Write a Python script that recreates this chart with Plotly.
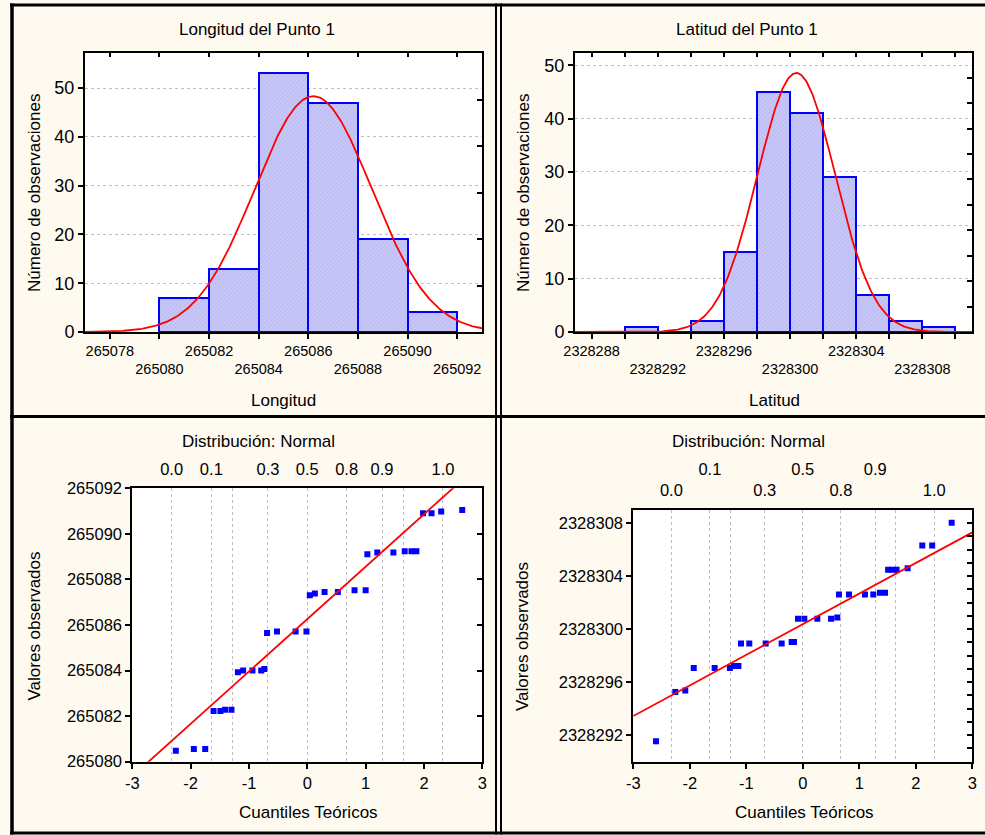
import numpy as np
import plotly.graph_objects as go

# ---------------- data ----------------
N_OBS = 143
BIN_W = 2

lon_bin_left = [265080, 265082, 265084, 265086, 265088, 265090]
lon_counts = [7, 13, 53, 47, 19, 4]
lon_mean, lon_sd = 265086.2, 2.36

lat_bin_left = [2328290, 2328292, 2328294, 2328296, 2328298, 2328300,
                2328302, 2328304, 2328306, 2328308]
lat_counts = [1, 0, 2, 15, 45, 41, 29, 7, 2, 1]
lat_mean, lat_sd = 2328300.38, 2.35

lon_ticks_row1 = [265078, 265082, 265086, 265090]
lon_ticks_row2 = [265080, 265084, 265088, 265092]
lat_ticks_row1 = [2328288, 2328296, 2328304]
lat_ticks_row2 = [2328292, 2328300, 2328308]

q_ticks = [-3, -2, -1, 0, 1, 2, 3]
q_tick_text = ["-3", "-2", "-1", "0", "1", "2", "3"]

# normal probability plot, longitude
qq_lon_x = [-2.254, -1.945, -1.75, -1.607, -1.49, -1.41, -1.30, -1.19, -1.10, -0.94,
            -0.79, -0.736, -0.69, -0.52, -0.20, -0.014, 0.043, 0.13, 0.296, 0.524,
            0.81, 1.0, 1.03, 1.20, 1.476, 1.67, 1.786, 1.87, 1.985, 2.13, 2.295, 2.656]
qq_lon_y = [265080.48, 265080.56, 265080.56, 265082.22, 265082.22, 265082.28, 265082.28,
            265083.93, 265084.0, 265084.0, 265084.0, 265084.07, 265085.65, 265085.72,
            265085.72, 265085.72, 265087.31, 265087.38, 265087.45, 265087.45, 265087.53,
            265087.53, 265089.10, 265089.18, 265089.18, 265089.24, 265089.24, 265089.24,
            265090.90, 265090.90, 265090.98, 265091.05]
qq_lon_intercept, qq_lon_slope = 265086.26, 2.30

# normal probability plot, latitude
qq_lat_x = [-2.598, -2.257, -2.08, -1.93, -1.56, -1.29, -1.22, -1.14, -1.094, -0.947,
            -0.657, -0.374, -0.197, -0.156, -0.085, 0.027, 0.257, 0.50, 0.61, 0.64,
            0.817, 1.10, 1.248, 1.366, 1.455, 1.51, 1.58, 1.66, 1.856, 2.115, 2.29, 2.635]
qq_lat_y = [2328291.55, 2328295.27, 2328295.37, 2328297.07, 2328297.07, 2328297.07,
            2328297.22, 2328297.22, 2328298.93, 2328298.93, 2328298.93, 2328298.93,
            2328299.03, 2328299.03, 2328300.79, 2328300.79, 2328300.79, 2328300.79,
            2328300.89, 2328302.63, 2328302.63, 2328302.63, 2328302.63, 2328302.75,
            2328302.75, 2328304.49, 2328304.49, 2328304.49, 2328304.61, 2328306.32,
            2328306.32, 2328308.03]
qq_lat_intercept, qq_lat_slope = 2328300.38, 2.31

prob_pos = [-2.326, -1.645, -1.282, -0.674, 0.0, 0.674, 1.282, 1.645, 2.326]
prob_labels_left = ["0.0", "0.1", "", "0.3", "0.5", "0.8", "0.9", "", "1.0"]
prob_labels_near = ["0.0", "", "", "0.3", "", "0.8", "", "", "1.0"]
prob_far_pos = [-1.645, 0.0, 1.282]
prob_far_labels = ["0.1", "0.5", "0.9"]

# ---------------- style ----------------
W, H = 985, 835
FONT = "Liberation Sans, Arial, sans-serif"
CREAM = "#FFFAF0"
BAR_FILL = "#C8C8F8"
BAR_LINE = "#0000FF"
RED = "#FF0000"
GRID = "#BEBEBE"


def xd(a, b):
    return [a / W, b / W]


def yd(top, bottom):
    return [1 - bottom / H, 1 - top / H]


fig = go.Figure()


def hist_traces(bin_left, counts, mean, sd, xr, xa, ya):
    centers = [b + BIN_W / 2 for b in bin_left]
    fig.add_trace(go.Bar(
        x=centers, y=counts, width=BIN_W, xaxis=xa, yaxis=ya,
        marker=dict(color=BAR_FILL, line=dict(color=BAR_LINE, width=2),
                    pattern=dict(shape="/", fgcolor="#A4A4EA", bgcolor=BAR_FILL,
                                 size=3, solidity=0.3)),
        showlegend=False, hoverinfo="x+y"))
    xs = np.linspace(xr[0], xr[1], 400)
    ys = N_OBS * BIN_W / (sd * np.sqrt(2 * np.pi)) * np.exp(-0.5 * ((xs - mean) / sd) ** 2)
    fig.add_trace(go.Scatter(x=xs, y=ys, mode="lines", xaxis=xa, yaxis=ya,
                             line=dict(color=RED, width=1.8), showlegend=False,
                             hoverinfo="skip"))


def qq_traces(qx, qy, b0, b1, xa, ya):
    fig.add_trace(go.Scatter(x=qx, y=qy, mode="markers", xaxis=xa, yaxis=ya,
                             marker=dict(symbol="square", size=6, color="#0000FF"),
                             showlegend=False))
    lx = [-3, 3]
    ly = [b0 + b1 * v for v in lx]
    fig.add_trace(go.Scatter(x=lx, y=ly, mode="lines", xaxis=xa, yaxis=ya,
                             line=dict(color=RED, width=1.8), showlegend=False,
                             hoverinfo="skip"))


def anchor_trace(xa, ya, xr, yr):
    # invisible helper trace so that overlay axes get drawn
    fig.add_trace(go.Scatter(x=[(xr[0] + xr[1]) / 2], y=[(yr[0] + yr[1]) / 2],
                             mode="markers", xaxis=xa, yaxis=ya,
                             marker=dict(opacity=0, size=1), showlegend=False,
                             hoverinfo="skip"))


LON_XR = [265077, 265093]
LAT_XR = [2328287, 2328311]
TL_YR = [0, 57.2]
TR_YR = [0, 52.3]
BL_YR = [265080, 265092]
BR_YR = [2328290, 2328309]
Q_XR = [-3, 3]

hist_traces(lon_bin_left, lon_counts, lon_mean, lon_sd, LON_XR, "x", "y")
hist_traces(lat_bin_left, lat_counts, lat_mean, lat_sd, LAT_XR, "x2", "y2")
qq_traces(qq_lon_x, qq_lon_y, qq_lon_intercept, qq_lon_slope, "x3", "y3")
qq_traces(qq_lat_x, qq_lat_y, qq_lat_intercept, qq_lat_slope, "x4", "y4")

anchor_trace("x5", "y", LON_XR, TL_YR)
anchor_trace("x6", "y", LON_XR, TL_YR)
anchor_trace("x", "y5", LON_XR, TL_YR)
anchor_trace("x7", "y2", LAT_XR, TR_YR)
anchor_trace("x8", "y2", LAT_XR, TR_YR)
anchor_trace("x2", "y6", LAT_XR, TR_YR)
anchor_trace("x9", "y3", Q_XR, BL_YR)
anchor_trace("x3", "y7", Q_XR, BL_YR)
anchor_trace("x10", "y4", Q_XR, BR_YR)
anchor_trace("x11", "y4", Q_XR, BR_YR)
anchor_trace("x4", "y8", Q_XR, BR_YR)

base_axis = dict(showline=True, linecolor="black", linewidth=2, zeroline=False,
                 showgrid=False, tickcolor="black", tickwidth=1.5, ticks="outside",
                 ticklen=5, color="black", automargin=False, fixedrange=True)

lon_all = list(range(265078, 265093, 2))
lat_all = list(range(2328288, 2328311, 2))


def row1_text(allv, row1):
    return [str(v) if v in row1 else "" for v in allv]


hx_font = dict(family=FONT, size=14.5, color="black")
y_font = dict(family=FONT, size=18, color="black")
q_font = dict(family=FONT, size=16.5, color="black")

ov = dict(showline=False, showgrid=False, zeroline=False, fixedrange=True,
          automargin=False)

layout_axes = {}
# --- top-left histogram
layout_axes["xaxis"] = dict(base_axis, domain=xd(85, 482), anchor="y", range=LON_XR,
                            tickvals=lon_all, ticktext=row1_text(lon_all, lon_ticks_row1),
                            tickfont=hx_font, mirror=True)
layout_axes["yaxis"] = dict(base_axis, domain=yd(53, 332), anchor="x", range=TL_YR,
                            tickvals=[0, 10, 20, 30, 40, 50], tickfont=y_font,
                            showgrid=True, gridcolor=GRID, griddash="dot", gridwidth=1,
                            mirror=True)
layout_axes["xaxis5"] = dict(ov, overlaying="x", anchor="y", side="bottom", range=LON_XR,
                             tickvals=lon_ticks_row2, ticktext=[str(v) for v in lon_ticks_row2],
                             ticks="outside", ticklen=24, tickcolor="rgba(0,0,0,0)",
                             tickfont=hx_font)
layout_axes["xaxis6"] = dict(ov, overlaying="x", anchor="y", side="top", range=LON_XR,
                             tickvals=lon_all, ticks="inside", ticklen=4, tickwidth=1.5,
                             tickcolor="black", showticklabels=False)
layout_axes["yaxis5"] = dict(ov, overlaying="y", anchor="x", side="right", range=TL_YR,
                             tickvals=[N_OBS / 15 * k for k in range(1, 6)],
                             ticks="inside", ticklen=5, tickwidth=1.5, tickcolor="black",
                             showticklabels=False)

# --- top-right histogram
layout_axes["xaxis2"] = dict(base_axis, domain=xd(575, 972), anchor="y2", range=LAT_XR,
                             tickvals=lat_all, ticktext=row1_text(lat_all, lat_ticks_row1),
                             tickfont=hx_font, mirror=True)
layout_axes["yaxis2"] = dict(base_axis, domain=yd(53, 332), anchor="x2", range=TR_YR,
                             tickvals=[0, 10, 20, 30, 40, 50], tickfont=y_font,
                             showgrid=True, gridcolor=GRID, griddash="dot", gridwidth=1,
                             mirror=True)
layout_axes["xaxis7"] = dict(ov, overlaying="x2", anchor="y2", side="bottom", range=LAT_XR,
                             tickvals=lat_ticks_row2, ticktext=[str(v) for v in lat_ticks_row2],
                             ticks="outside", ticklen=24, tickcolor="rgba(0,0,0,0)",
                             tickfont=hx_font)
layout_axes["xaxis8"] = dict(ov, overlaying="x2", anchor="y2", side="top", range=LAT_XR,
                             tickvals=lat_all, ticks="inside", ticklen=4, tickwidth=1.5,
                             tickcolor="black", showticklabels=False)
layout_axes["yaxis6"] = dict(ov, overlaying="y2", anchor="x2", side="right", range=TR_YR,
                             tickvals=[N_OBS / 30 * k for k in range(1, 11)],
                             ticks="inside", ticklen=5, tickwidth=1.5, tickcolor="black",
                             showticklabels=False)

# --- bottom-left QQ
layout_axes["xaxis3"] = dict(base_axis, domain=xd(132.3, 482.3), anchor="y3", range=Q_XR,
                             tickvals=q_ticks, ticktext=q_tick_text, tickfont=q_font,
                             mirror=True)
layout_axes["yaxis3"] = dict(base_axis, domain=yd(488.3, 761.7), anchor="x3", range=BL_YR,
                             tickvals=list(range(265080, 265093, 2)), tickformat="d",
                             tickfont=q_font, mirror=True)
layout_axes["xaxis9"] = dict(ov, overlaying="x3", anchor="y3", side="top", range=Q_XR,
                             tickvals=prob_pos, ticktext=prob_labels_left, ticks="outside",
                             ticklen=6, tickcolor="rgba(0,0,0,0)",
                             showgrid=True, gridcolor=GRID, griddash="dot", gridwidth=1,
                             tickfont=q_font)
layout_axes["yaxis7"] = dict(ov, overlaying="y3", anchor="x3", side="right", range=BL_YR,
                             tickvals=list(range(265080, 265093, 2)),
                             ticks="inside", ticklen=5, tickwidth=1.5, tickcolor="black",
                             showticklabels=False)

# --- bottom-right QQ
layout_axes["xaxis4"] = dict(base_axis, domain=xd(633.3, 972.3), anchor="y4", range=Q_XR,
                             tickvals=q_ticks, ticktext=q_tick_text, tickfont=q_font,
                             mirror=True)
layout_axes["yaxis4"] = dict(base_axis, domain=yd(510, 761.7), anchor="x4", range=BR_YR,
                             tickvals=list(range(2328292, 2328309, 4)), tickformat="d",
                             tickfont=q_font, mirror=True)
layout_axes["xaxis10"] = dict(ov, overlaying="x4", anchor="y4", side="top", range=Q_XR,
                              tickvals=prob_pos, ticktext=prob_labels_near, ticks="outside",
                              ticklen=6, tickcolor="rgba(0,0,0,0)",
                              showgrid=True, gridcolor=GRID, griddash="dot", gridwidth=1,
                              tickfont=q_font)
layout_axes["xaxis11"] = dict(ov, overlaying="x4", anchor="y4", side="top", range=Q_XR,
                              tickvals=prob_far_pos, ticktext=prob_far_labels, ticks="outside",
                              ticklen=27, tickcolor="rgba(0,0,0,0)", tickfont=q_font)
layout_axes["yaxis8"] = dict(ov, overlaying="y4", anchor="x4", side="right", range=BR_YR,
                             tickvals=list(range(2328290, 2328310, 1)),
                             ticks="inside", ticklen=5, tickwidth=1.5, tickcolor="black",
                             showticklabels=False)

fig.update_layout(**layout_axes)


def ann(text, x, y, size=17, angle=0):
    return dict(text=text, x=x / W, y=1 - y / H, xref="paper", yref="paper",
                showarrow=False, textangle=angle, xanchor="center", yanchor="middle",
                font=dict(family=FONT, size=size, color="black"))


annotations = [
    ann("Longitud del Punto 1", 257, 30),
    ann("Latitud del Punto 1", 747, 30),
    ann("Longitud", 283.5, 400),
    ann("Latitud", 774, 400),
    ann("Número de observaciones", 34, 193, angle=-90),
    ann("Número de observaciones", 523, 193, angle=-90),
    ann("Distribución: Normal", 258, 441.5),
    ann("Distribución: Normal", 748, 441.5),
    ann("Cuantiles Teóricos", 308, 812.5),
    ann("Cuantiles Teóricos", 804.5, 812.5),
    ann("Valores observados", 33.5, 626, angle=-90),
    ann("Valores observados", 522.5, 636.5, angle=-90),
]


def hline(y, x0, x1, w):
    return dict(type="line", xref="paper", yref="paper", x0=x0 / W, x1=x1 / W,
                y0=1 - y / H, y1=1 - y / H, line=dict(color="black", width=w))


def vline(x, y0, y1, w):
    return dict(type="line", xref="paper", yref="paper", x0=x / W, x1=x / W,
                y0=1 - y0 / H, y1=1 - y1 / H, line=dict(color="black", width=w))


shapes = [
    hline(5, 10, 985, 3),
    hline(416.5, 10, 985, 3),
    hline(833, 10, 985, 3),
    vline(12, 3.5, 834.5, 3.5),
    vline(496, 3.5, 834.5, 2),
    vline(501, 3.5, 834.5, 2),
]

fig.update_layout(
    width=W, height=H, margin=dict(l=0, r=0, t=0, b=0),
    paper_bgcolor=CREAM, plot_bgcolor="white",
    font=dict(family=FONT, color="black"),
    annotations=annotations, shapes=shapes, showlegend=False, bargap=0,
)

fig.write_html("out.html")
